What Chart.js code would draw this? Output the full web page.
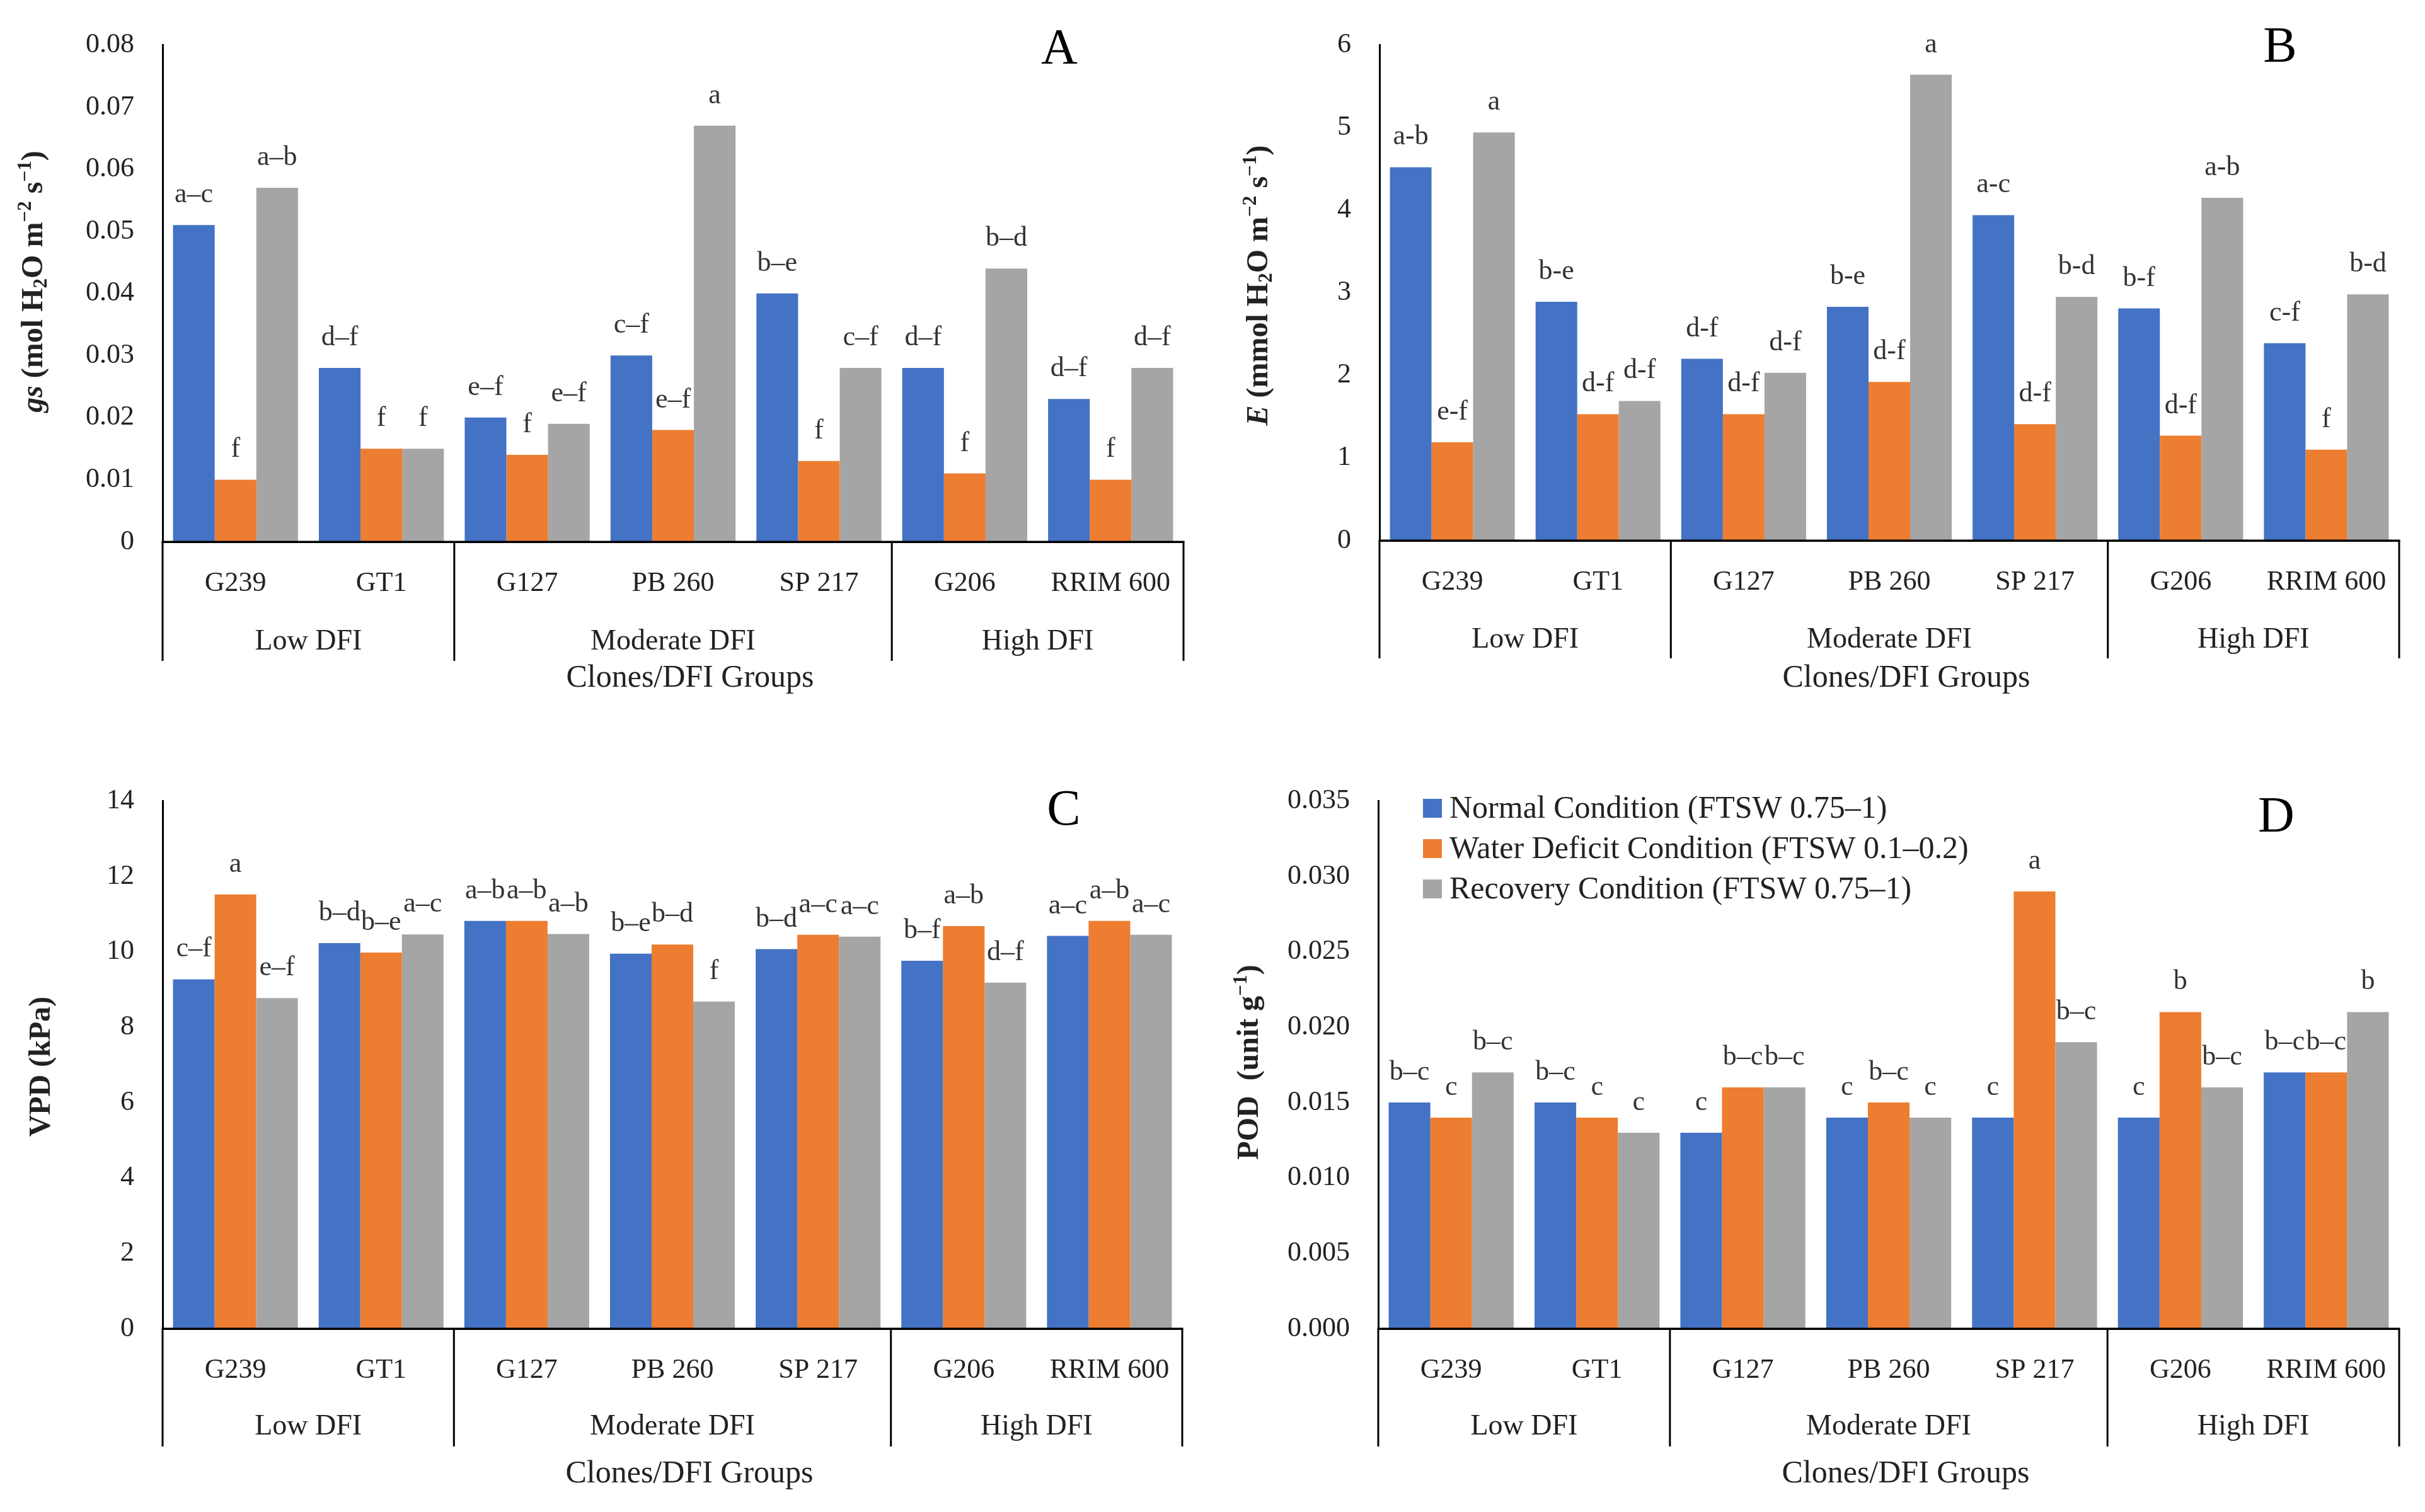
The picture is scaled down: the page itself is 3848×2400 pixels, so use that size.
<!DOCTYPE html>
<html><head><meta charset="utf-8">
<script src="https://cdn.jsdelivr.net/npm/chart.js@4.4.1/dist/chart.umd.min.js"></script>
<style>
html,body{margin:0;padding:0;background:#fff;}
body{width:3848px;height:2400px;position:relative;overflow:hidden;}
canvas{position:absolute;}
</style></head><body>
<canvas id="cA" width="1924" height="1200" style="left:0px;top:0px;width:1924px;height:1200px"></canvas>
<canvas id="cB" width="1924" height="1200" style="left:1924px;top:0px;width:1924px;height:1200px"></canvas>
<canvas id="cC" width="1924" height="1200" style="left:0px;top:1200px;width:1924px;height:1200px"></canvas>
<canvas id="cD" width="1924" height="1200" style="left:1924px;top:1200px;width:1924px;height:1200px"></canvas>
<script>
// ---------- data ----------
const clones = ['G239', 'GT1', 'G127', 'PB 260', 'SP 217', 'G206', 'RRIM 600'];
const groupNames = ['Low DFI', 'Moderate DFI', 'High DFI'];
const groupSizes = [2, 3, 2];
const seriesNames = ['Normal Condition (FTSW 0.75\u20131)', 'Water Deficit Condition (FTSW 0.1\u20130.2)', 'Recovery Condition (FTSW 0.75\u20131)'];
const xTitle = 'Clones/DFI Groups';

// A: gs
const gsNormal   = [0.051, 0.028, 0.020, 0.030, 0.040, 0.028, 0.023];
const gsDeficit  = [0.010, 0.015, 0.014, 0.018, 0.013, 0.011, 0.010];
const gsRecovery = [0.057, 0.015, 0.019, 0.067, 0.028, 0.044, 0.028];
const gsNormalSig   = ['a\u2013c', 'd\u2013f', 'e\u2013f', 'c\u2013f', 'b\u2013e', 'd\u2013f', 'd\u2013f'];
const gsDeficitSig  = ['f', 'f', 'f', 'e\u2013f', 'f', 'f', 'f'];
const gsRecoverySig = ['a\u2013b', 'f', 'e\u2013f', 'a', 'c\u2013f', 'b\u2013d', 'd\u2013f'];
const gsTicks = ['0', '0.01', '0.02', '0.03', '0.04', '0.05', '0.06', '0.07', '0.08'];

// B: E
const eNormal   = [4.52, 2.89, 2.20, 2.83, 3.94, 2.81, 2.39];
const eDeficit  = [1.19, 1.53, 1.53, 1.92, 1.41, 1.27, 1.10];
const eRecovery = [4.94, 1.69, 2.03, 5.64, 2.95, 4.15, 2.98];
const eNormalSig   = ['a-b', 'b-e', 'd-f', 'b-e', 'a-c', 'b-f', 'c-f'];
const eDeficitSig  = ['e-f', 'd-f', 'd-f', 'd-f', 'd-f', 'd-f', 'f'];
const eRecoverySig = ['a', 'd-f', 'd-f', 'a', 'b-d', 'a-b', 'b-d'];
const eTicks = ['0', '1', '2', '3', '4', '5', '6'];

// C: VPD
const vpdNormal   = [9.27, 10.23, 10.82, 9.95, 10.07, 9.76, 10.42];
const vpdDeficit  = [11.52, 9.98, 10.82, 10.19, 10.45, 10.68, 10.82];
const vpdRecovery = [8.77, 10.46, 10.47, 8.68, 10.40, 9.18, 10.45];
const vpdNormalSig   = ['c\u2013f', 'b\u2013d', 'a\u2013b', 'b\u2013e', 'b\u2013d', 'b\u2013f', 'a\u2013c'];
const vpdDeficitSig  = ['a', 'b\u2013e', 'a\u2013b', 'b\u2013d', 'a\u2013c', 'a\u2013b', 'a\u2013b'];
const vpdRecoverySig = ['e\u2013f', 'a\u2013c', 'a\u2013b', 'f', 'a\u2013c', 'd\u2013f', 'a\u2013c'];
const vpdTicks = ['0', '2', '4', '6', '8', '10', '12', '14'];

// D: POD
const podNormal   = [0.015, 0.015, 0.013, 0.014, 0.014, 0.014, 0.017];
const podDeficit  = [0.014, 0.014, 0.016, 0.015, 0.029, 0.021, 0.017];
const podRecovery = [0.017, 0.013, 0.016, 0.014, 0.019, 0.016, 0.021];
const podNormalSig   = ['b\u2013c', 'b\u2013c', 'c', 'c', 'c', 'c', 'b\u2013c'];
const podDeficitSig  = ['c', 'c', 'b\u2013c', 'b\u2013c', 'a', 'b', 'b\u2013c'];
const podRecoverySig = ['b\u2013c', 'c', 'b\u2013c', 'c', 'b\u2013c', 'b\u2013c', 'b'];
const podTicks = ['0.000', '0.005', '0.010', '0.015', '0.020', '0.025', '0.030', '0.035'];

// ---------- style ----------
const COLORS = ['#4472C4', '#ED7D31', '#A5A5A5'];
const FONT = "'Palatino Linotype','Book Antiqua',Palatino,'Liberation Serif','Times New Roman',serif";
const TXT = '#222222';
const W = 1924, H = 1200;

const panels = [
  { id: 'cA', letter: 'A', series: [gsNormal, gsDeficit, gsRecovery], sig: [gsNormalSig, gsDeficitSig, gsRecoverySig],
    ticks: gsTicks, max: 0.08, step: 0.01,
    area: { left: 258, right: 1878, top: 54, bottom: 860 },
    letterPos: [1681, 80], yTitlePos: [55, 447], titleOff: 217, groupOff: 159, sepOff: 189,
    yTitle: [{ t: 'gs', it: true }, { t: ' (mol H' }, { t: '2', pos: 'sub' }, { t: 'O m' }, { t: '\u22122', pos: 'sup' }, { t: ' s' }, { t: '\u22121', pos: 'sup' }, { t: ')' }] },
  { id: 'cB', letter: 'B', series: [eNormal, eDeficit, eRecovery], sig: [eNormalSig, eDeficitSig, eRecoverySig],
    ticks: eTicks, max: 6, step: 1,
    area: { left: 265, right: 1883, top: 62, bottom: 858 },
    letterPos: [1694, 77], yTitlePos: [75, 453], titleOff: 219, groupOff: 158, sepOff: 187,
    yTitle: [{ t: 'E', it: true }, { t: ' (mmol H' }, { t: '2', pos: 'sub' }, { t: 'O m' }, { t: '\u22122', pos: 'sup' }, { t: ' s' }, { t: '\u22121', pos: 'sup' }, { t: ')' }] },
  { id: 'cC', letter: 'C', series: [vpdNormal, vpdDeficit, vpdRecovery], sig: [vpdNormalSig, vpdDeficitSig, vpdRecoverySig],
    ticks: vpdTicks, max: 14, step: 2,
    area: { left: 258, right: 1876, top: 66, bottom: 909 },
    letterPos: [1688, 88], yTitlePos: [67, 493], titleOff: 231, groupOff: 156, sepOff: 187,
    yTitle: [{ t: 'VPD (kPa)' }] },
  { id: 'cD', letter: 'D', series: [podNormal, podDeficit, podRecovery], sig: [podNormalSig, podDeficitSig, podRecoverySig],
    ticks: podTicks, max: 0.035, step: 0.005, legend: true,
    area: { left: 263, right: 1883, top: 63, bottom: 909 },
    letterPos: [1688, 99], yTitlePos: [60, 486], titleOff: 231, groupOff: 156, sepOff: 187,
    yTitle: [{ t: 'POD  (unit g' }, { t: '\u22121', pos: 'sup' }, { t: ')' }] }
];

function richWidth(ctx, segs, size) {
  let w = 0;
  segs.forEach(s => {
    const fs = s.pos ? size * 0.65 : size;
    ctx.font = (s.it ? 'italic ' : '') + 'bold ' + fs + 'px ' + FONT;
    w += ctx.measureText(s.t).width;
  });
  return w;
}
function drawRich(ctx, segs, size, cx, cy) {
  ctx.save();
  ctx.translate(cx, cy);
  ctx.rotate(-Math.PI / 2);
  const total = richWidth(ctx, segs, size);
  let x = -total / 2;
  ctx.textBaseline = 'middle';
  ctx.textAlign = 'left';
  ctx.fillStyle = TXT;
  segs.forEach(s => {
    const fs = s.pos ? size * 0.65 : size;
    ctx.font = (s.it ? 'italic ' : '') + 'bold ' + fs + 'px ' + FONT;
    let dy = 0;
    if (s.pos === 'sub') dy = size * 0.22;
    if (s.pos === 'sup') dy = -size * 0.3;
    ctx.fillText(s.t, x, dy);
    x += ctx.measureText(s.t).width;
  });
  ctx.restore();
}

function decorPlugin(p) {
  return {
    id: 'decor' + p.letter,
    afterDatasetsDraw(chart) {
      const ctx = chart.ctx;
      const xs = chart.scales.x;
      const a = chart.chartArea;
      const n = chart.data.labels.length;
      ctx.save();
      // zero line
      ctx.strokeStyle = '#000';
      ctx.lineWidth = 3;
      ctx.beginPath();
      ctx.moveTo(a.left - 1.5, a.bottom);
      ctx.lineTo(a.right + 1.5, a.bottom);
      ctx.stroke();
      // group separators
      const bounds = [a.left];
      let k = 0;
      groupSizes.forEach(sz => {
        k += sz;
        if (k < n) bounds.push((xs.getPixelForValue(k - 1) + xs.getPixelForValue(k)) / 2);
      });
      bounds.push(a.right);
      ctx.beginPath();
      bounds.forEach(bx => {
        ctx.moveTo(bx, a.bottom);
        ctx.lineTo(bx, a.bottom + p.sepOff);
      });
      ctx.stroke();
      // group labels
      ctx.fillStyle = TXT;
      ctx.textAlign = 'center';
      ctx.textBaseline = 'middle';
      ctx.font = '46px ' + FONT;
      groupNames.forEach((g, i) => {
        ctx.fillText(g, (bounds[i] + bounds[i + 1]) / 2, a.bottom + p.groupOff);
      });
      // x title
      ctx.font = '50px ' + FONT;
      ctx.fillText(xTitle, (a.left + a.right) / 2 + 27, a.bottom + p.titleOff);
      // significance letters
      ctx.font = '44px ' + FONT;
      ctx.textBaseline = 'alphabetic';
      ctx.fillStyle = '#333333';
      chart.data.datasets.forEach((ds, i) => {
        const meta = chart.getDatasetMeta(i);
        meta.data.forEach((el, j) => {
          ctx.fillText(p.sig[i][j], el.x, el.y - 36);
        });
      });
      // panel letter
      ctx.fillStyle = '#000';
      ctx.font = '80px ' + FONT;
      ctx.textBaseline = 'middle';
      ctx.fillText(p.letter, p.letterPos[0], p.letterPos[1]);
      // y title
      drawRich(ctx, p.yTitle, 48, p.yTitlePos[0], p.yTitlePos[1]);
      // legend
      if (p.legend) {
        ctx.font = '50px ' + FONT;
        ctx.textAlign = 'left';
        ctx.textBaseline = 'middle';
        chart.data.datasets.forEach((ds, i) => {
          const cy = 83 + i * 64;
          ctx.fillStyle = ds.backgroundColor;
          ctx.fillRect(334, cy - 15, 30, 30);
          ctx.fillStyle = TXT;
          ctx.fillText(ds.label, 376, cy + 2);
        });
      }
      ctx.restore();
    }
  };
}

panels.forEach(p => {
  const datasets = p.series.map((vals, i) => ({
    label: seriesNames[i],
    data: vals,
    backgroundColor: COLORS[i],
    borderWidth: 0,
    categoryPercentage: 0.857,
    barPercentage: 1.0
  }));
  new Chart(document.getElementById(p.id), {
    type: 'bar',
    data: { labels: clones, datasets },
    options: {
      responsive: false,
      animation: false,
      devicePixelRatio: 1,
      layout: { padding: { left: 0, right: W - p.area.right, top: p.area.top, bottom: 0 } },
      plugins: { legend: { display: false }, tooltip: { enabled: false } },
      scales: {
        x: {
          grid: { display: false, drawTicks: false },
          border: { display: true, color: '#000', width: 3 },
          ticks: { font: { family: FONT, size: 44 }, color: TXT, padding: 40, maxRotation: 0, autoSkip: false },
          afterFit: (s) => { s.height = H - p.area.bottom; }
        },
        y: {
          min: 0, max: p.max,
          grid: { display: false, drawTicks: false },
          border: { display: true, color: '#000', width: 3 },
          ticks: { stepSize: p.step, font: { family: FONT, size: 44 }, color: TXT, padding: 45,
                   callback: (v, i) => p.ticks[i] },
          afterFit: (s) => { s.width = p.area.left; }
        }
      }
    },
    plugins: [decorPlugin(p)]
  });
});
</script>
</body></html>
